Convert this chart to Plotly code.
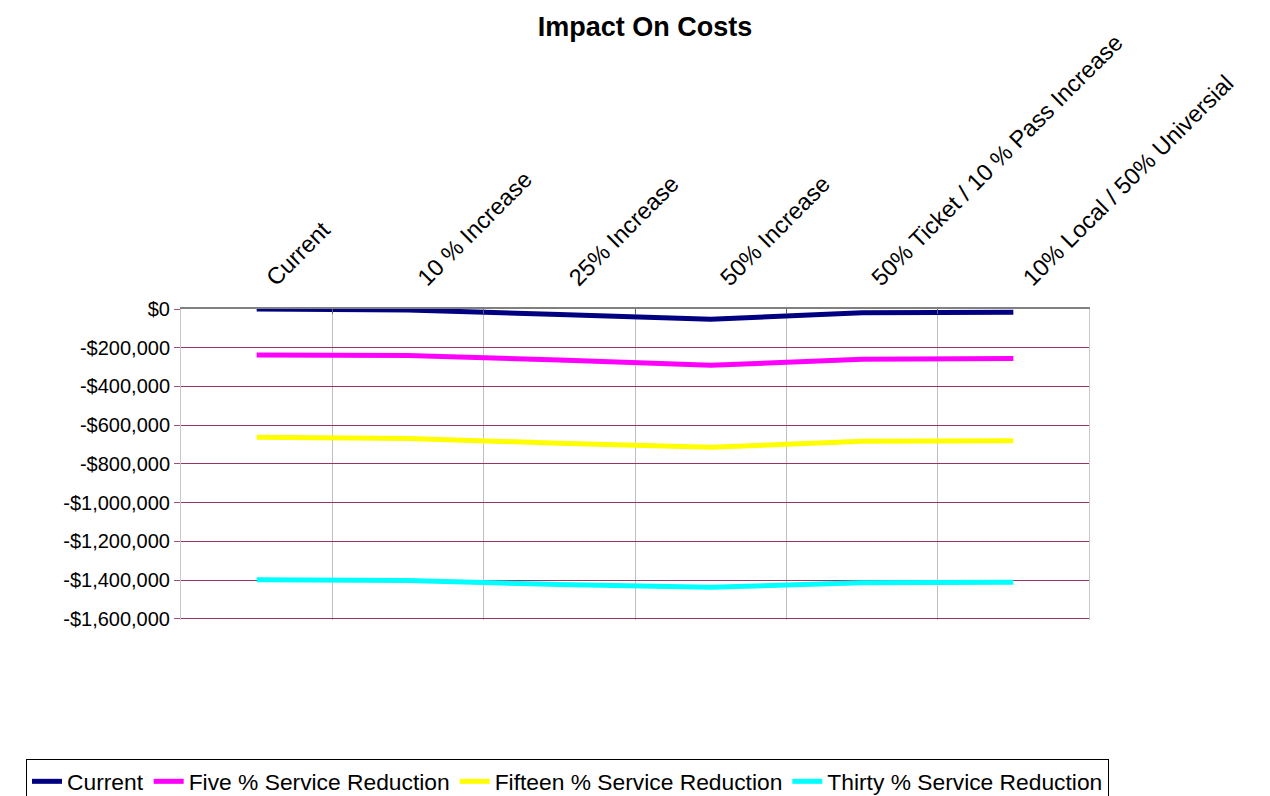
import plotly.graph_objects as go

categories = ["Current", "10 % Increase", "25% Increase", "50% Increase",
              "50% Ticket / 10 % Pass Increase", "10% Local / 50% Universial"]

current = [0, -5000, -28000, -53000, -20000, -17000]
five_pct = [-237000, -240000, -264000, -291000, -260000, -256000]
fifteen_pct = [-662000, -669000, -693000, -714000, -683000, -680000]
thirty_pct = [-1398000, -1402000, -1423000, -1437000, -1414000, -1411000]

series_names = ["Current", "Five % Service Reduction",
                "Fifteen % Service Reduction", "Thirty % Service Reduction"]
series_values = [current, five_pct, fifteen_pct, thirty_pct]
series_colors = ["#000080", "#FF00FF", "#FFFF00", "#00FFFF"]

y_ticks = [0, -200000, -400000, -600000, -800000, -1000000, -1200000, -1400000, -1600000]
y_ticktext = [("-$" if v < 0 else "$") + f"{abs(v):,}" for v in y_ticks]
y_min = -1606000  # slight pad so the bottom gridline is drawn

FONT = "Liberation Sans, Arial, sans-serif"

fig = go.Figure()
for name, vals, col in zip(series_names, series_values, series_colors):
    fig.add_trace(go.Scatter(x=categories, y=vals, name=name, mode="lines",
                             line=dict(color=col, width=5)))

W, H = 1270, 796
L, R, T, B = 181, 181, 309, 176
pw = W - L - R
ph = H - T - B

fig.update_layout(
    width=W, height=H,
    margin=dict(l=L, r=R, t=T, b=B, pad=0, autoexpand=False),
    paper_bgcolor="white", plot_bgcolor="white",
    font=dict(family=FONT, color="black"),
    title=dict(text="<b>Impact On Costs</b>", x=645 / W, xref="container", xanchor="center",
               y=1 - 27 / H, yref="container", yanchor="middle",
               font=dict(size=27, family=FONT, color="black")),
    showlegend=True,
    legend=dict(orientation="h", x=(26 - L) / pw, y=(H - B - 759) / ph,
                xanchor="left", yanchor="top",
                bordercolor="black", borderwidth=1, bgcolor="white",
                font=dict(size=22.8, family=FONT, color="black"),
                itemwidth=30, tracegroupgap=0),
    xaxis=dict(type="category", side="top", tickangle=-45,
               tickson="boundaries", ticks="inside", ticklen=5, tickcolor="#606060",
               showline=True, linecolor="#808080", linewidth=2,
               showgrid=True, gridcolor="#C0C0C0", gridwidth=1,
               tickfont=dict(size=23.5, family=FONT, color="black"),
               ticklabelshift=11, ticklabelstandoff=7,
               automargin=False, range=[-0.5, 5.5]),
    yaxis=dict(range=[y_min, 0], tickvals=y_ticks, ticktext=y_ticktext,
               ticks="outside", ticklen=6, tickcolor="#A05080",
               showgrid=True, gridcolor="#993366", gridwidth=1,
               zeroline=False, showline=True, linecolor="#C8C8C8", mirror=True,
               tickfont=dict(size=20, family=FONT, color="black"),
               automargin=False),
)

fig.write_html("out.html")
